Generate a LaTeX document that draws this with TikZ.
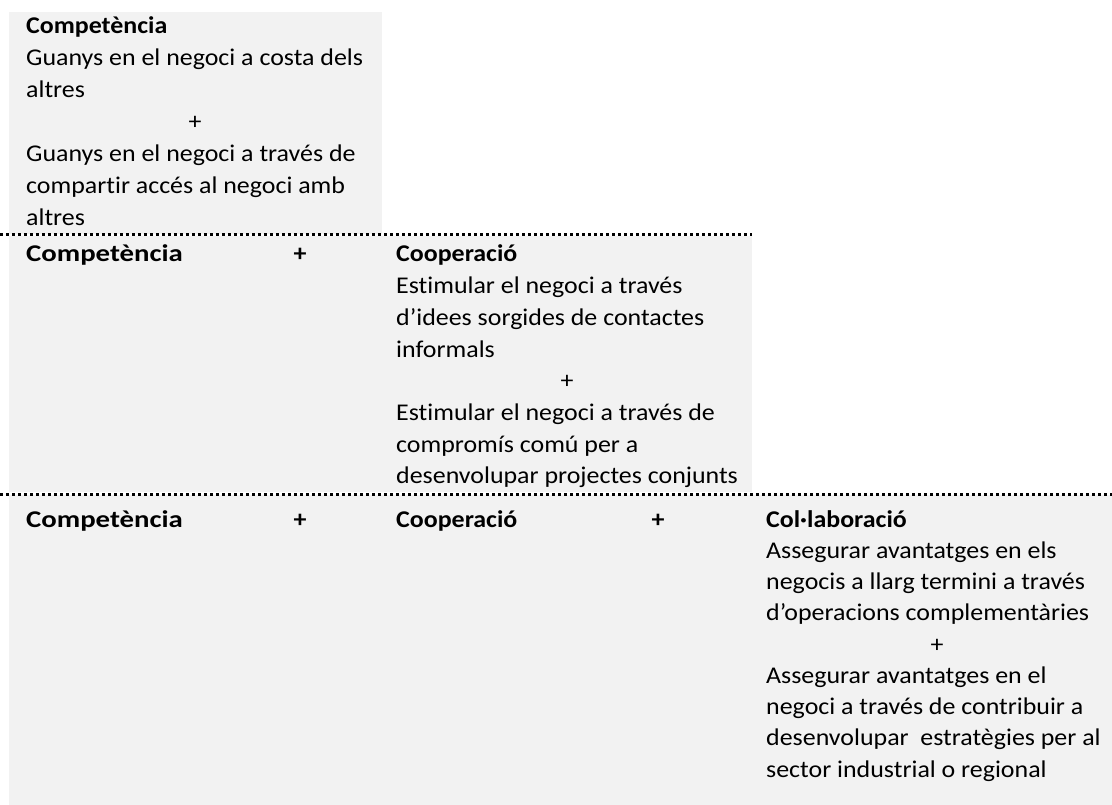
\documentclass[tikz,border=0pt]{standalone}
\usepackage{fontspec}
\setmainfont[FakeStretch=1.08,RawFeature=-liga]{Carlito}
\definecolor{panelgrey}{HTML}{F2F2F2}
\begin{document}
\begin{tikzpicture}[x=1pt,y=-1pt,
  txt/.style={anchor=base west, inner sep=0pt, font=\fontsize{24}{28}\selectfont, text=black},
  ttl/.style={txt, font=\fontsize{24}{28}\selectfont\bfseries},
  plus/.style={anchor=base, inner sep=0pt, font=\fontsize{24}{28}\selectfont},
  bplus/.style={plus, font=\fontsize{24}{28}\selectfont\bfseries},
  panel/.style={fill=panelgrey, draw=none},
  sep/.style={line width=3pt, dash pattern=on 3pt off 3pt}]
\useasboundingbox (0,0) rectangle (1112,805);

% grey panels of the three stages
\fill[panel] (9,12) rectangle (382,234);
\fill[panel] (9,236) rectangle (752,492);
\fill[panel] (9,495) rectangle (1112,805);

% dotted separators
\draw[sep] (0,235) -- (752,235);
\draw[sep] (0,494) -- (1112,494);

% stage 1: competition
\node[ttl] (t1) at (26,34) {Competència};
\foreach \t [count=\i] in {Guanys en el negoci a costa dels, altres}
  \node[txt] (a\i) at (26,{34+32*\i}) {\t};
\node[plus] (ap) at (195,130) {+};
\foreach \t [count=\i] in {Guanys en el negoci a través de, compartir accés al negoci amb, altres}
  \node[txt] (b\i) at (26,{130+32*\i}) {\t};

% stage 2: competition + cooperation
\node[ttl] (t2a) at (26,262) {\scalebox{1.11}[1]{Competència}};
\node[bplus] (t2p) at (300,262) {+};
\node[ttl] (t2b) at (396,262) {Cooperació};
\foreach \t [count=\i] in {Estimular el negoci a través, d’idees sorgides de contactes, informals}
  \node[txt] (c\i) at (396,{262+31.7*\i}) {\t};
\node[plus] (cp) at (567,{262+31.7*4}) {+};
\foreach \t [count=\i] in {Estimular el negoci a través de, compromís comú per a, desenvolupar projectes conjunts}
  \node[txt] (d\i) at (396,{262+31.7*(4+\i)}) {\t};

% stage 3: competition + cooperation + collaboration
\node[ttl] (t3a) at (26,527) {\scalebox{1.11}[1]{Competència}};
\node[bplus] (t3p1) at (300,527) {+};
\node[ttl] (t3b) at (396,527) {Cooperació};
\node[bplus] (t3p2) at (658,527) {+};
\node[ttl] (t3c) at (766,527) {Col·laboració};
\foreach \t [count=\i] in {Assegurar avantatges en els, negocis a llarg termini a través, d’operacions complementàries}
  \node[txt] (e\i) at (766,{527+31.25*\i}) {\t};
\node[plus] (ep) at (937,{527+31.25*4}) {+};
\foreach \t [count=\i] in {Assegurar avantatges en el, negoci a través de contribuir a, desenvolupar\ \ estratègies per al, sector industrial o regional}
  \node[txt] (f\i) at (766,{527+31.25*(4+\i)}) {\t};
\end{tikzpicture}
\end{document}
